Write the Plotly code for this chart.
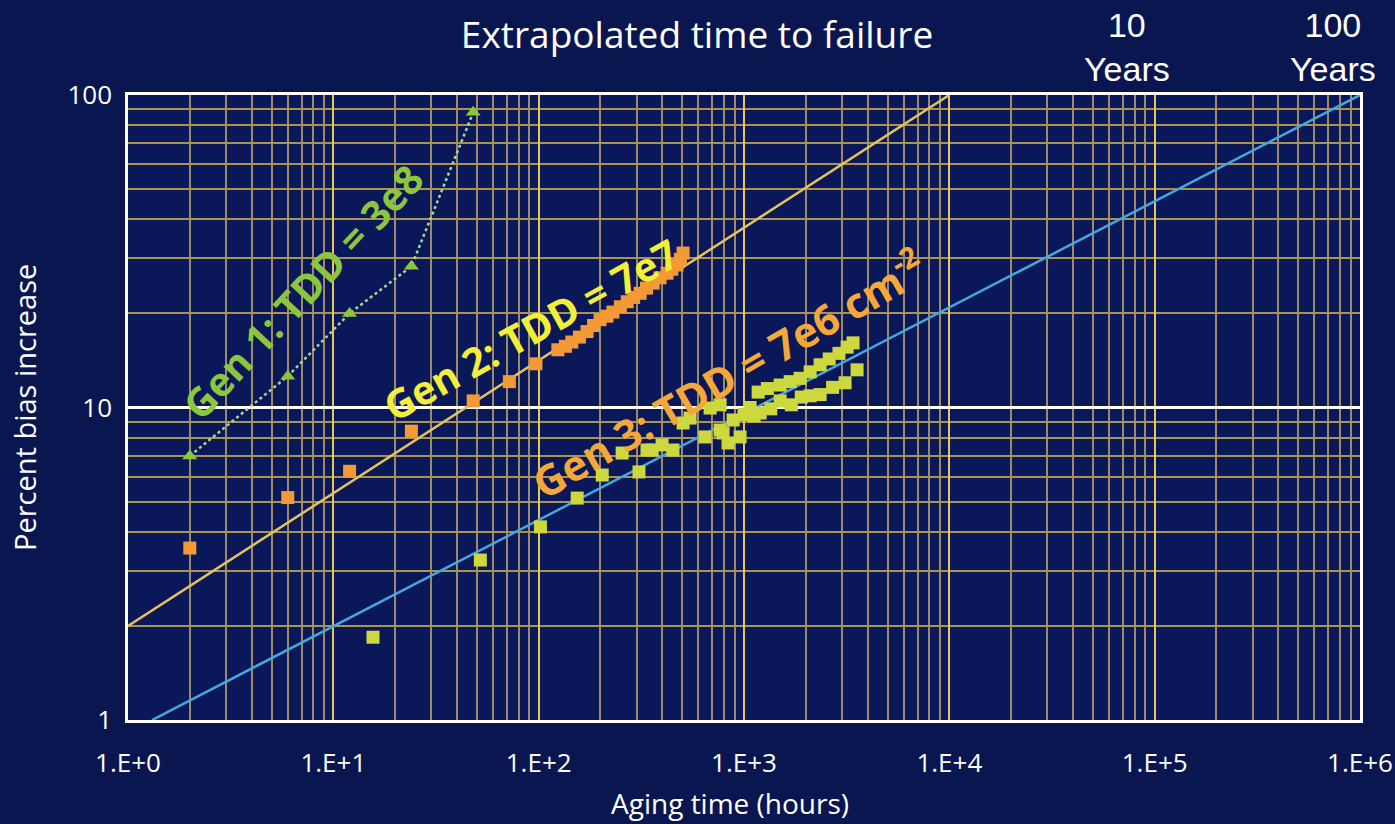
import plotly.graph_objects as go

# ---- data ----
gen1_x = [2, 6, 12, 24, 48]
gen1_y = [7.0, 12.6, 20.0, 28.3, 88]

gen2_x = [2, 6, 12, 24, 48, 72, 97, 124, 135, 145, 158, 172, 185, 199, 215, 230,
          250, 270, 290, 312, 335, 361, 390, 422, 445, 472, 490, 505]
gen2_y = [3.55, 5.15, 6.25, 8.4, 10.5, 12.1, 13.8, 15.3, 15.7, 16.2, 16.8, 17.5,
          18.3, 19.1, 19.6, 20.2, 21.0, 21.8, 22.5, 23.2, 24.1, 25.0, 26.0, 26.9,
          27.7, 28.6, 29.8, 31.2]

gen3_x = [15.6, 52, 102, 154, 204, 255, 308, 337, 357, 399, 451, 505, 546, 646, 684,
          765, 765, 791, 836, 885, 957, 1000, 1071, 1120, 1172, 1198, 1300, 1350,
          1500, 1500, 1678, 1700, 1876, 1900, 2100, 2100, 2348, 2348, 2600, 2700,
          2900, 3107, 3178, 3397, 3554]
gen3_y = [1.84, 3.25, 4.15, 5.13, 6.08, 7.15, 6.22, 7.31, 7.31, 7.59, 7.31, 8.92,
          9.25, 8.05, 9.96, 10.2, 8.47, 8.29, 7.70, 9.12, 8.05, 9.5, 10.0, 9.4, 11.2,
          9.6, 11.5, 9.9, 11.8, 10.5, 12.1, 10.2, 12.4, 10.8, 13.0, 10.9, 13.7, 11.0,
          14.3, 11.6, 14.9, 12.0, 15.6, 16.1, 13.2]

fit2_x = [1, 1e4]
fit2_y = [2, 100]
fit3_x = [1.31, 1e6]
fit3_y = [1, 100]

x_tickvals = [1, 10, 100, 1e3, 1e4, 1e5, 1e6]
x_ticktext = ["1.E+0", "1.E+1", "1.E+2", "1.E+3", "1.E+4", "1.E+5", "1.E+6"]
y_tickvals = [1, 10, 100]
y_ticktext = ["1", "10", "100"]

labels = ["Gen 1: TDD = 3e8", "Gen 2: TDD = 7e7", "Gen 3: TDD = 7e6 cm<sup>-2</sup>"]
year_labels = ["10<br>Years", "100<br>Years"]
title_text = "Extrapolated time to failure"
x_title = "Aging time (hours)"
y_title = "Percent bias increase"

# ---- colors ----
C_GEN1 = "#8cc63f"
C_GEN2 = "#f39a35"
C_GEN3 = "#cdd83f"
C_FIT2 = "#e5c35c"
C_FIT3 = "#45a6e0"
FONT = "Open Sans"

fig = go.Figure()

fig.add_trace(go.Scatter(x=fit2_x, y=fit2_y, mode="lines",
                         line=dict(color=C_FIT2, width=2.5), showlegend=False))
fig.add_trace(go.Scatter(x=fit3_x, y=fit3_y, mode="lines",
                         line=dict(color=C_FIT3, width=2.5), showlegend=False))
fig.add_trace(go.Scatter(x=gen1_x, y=gen1_y, mode="lines+markers",
                         line=dict(color="#a8d890", width=2.5, dash="dot"),
                         marker=dict(symbol="triangle-up", size=13, color=C_GEN1),
                         showlegend=False))
fig.add_trace(go.Scatter(x=gen2_x, y=gen2_y, mode="markers",
                         marker=dict(symbol="square", size=13, color=C_GEN2),
                         showlegend=False))
fig.add_trace(go.Scatter(x=gen3_x, y=gen3_y, mode="markers",
                         marker=dict(symbol="square", size=13, color=C_GEN3),
                         showlegend=False))

# rotated series labels (positions in log10 data units)
fig.add_annotation(x=0.85, y=1.37, xref="x", yref="y", text="<b>" + labels[0] + "</b>",
                   textangle=-47, showarrow=False,
                   font=dict(family=FONT, size=40, color=C_GEN1))
fig.add_annotation(x=1.96, y=1.25, xref="x", yref="y", text="<b>" + labels[1] + "</b>",
                   textangle=-29, showarrow=False,
                   font=dict(family=FONT, size=40, color="#f2ee3a"))
fig.add_annotation(x=2.92, y=1.11, xref="x", yref="y", text="<b>" + labels[2] + "</b>",
                   textangle=-30, showarrow=False,
                   font=dict(family=FONT, size=42, color="#f4a83a"))

# year labels (above the plot area)
fig.add_annotation(x=0.811, y=1.077, xref="paper", yref="paper",
                   xanchor="center", yanchor="middle",
                   text=year_labels[0], showarrow=False, align="center",
                   font=dict(family="Liberation Sans", size=34, color="white"))
fig.add_annotation(x=0.978, y=1.077, xref="paper", yref="paper",
                   xanchor="center", yanchor="middle",
                   text=year_labels[1], showarrow=False, align="center",
                   font=dict(family="Liberation Sans", size=34, color="white"))

# axis titles
fig.add_annotation(x=0.489, y=-0.133, xref="paper", yref="paper", text=x_title,
                   xanchor="center", yanchor="middle",
                   showarrow=False, font=dict(family=FONT, size=28, color="white"))
fig.add_annotation(x=-0.084, y=0.5, xref="paper", yref="paper", text=y_title,
                   xanchor="center", yanchor="middle",
                   textangle=-90, showarrow=False,
                   font=dict(family=FONT, size=29, color="white"))

fig.update_layout(
    width=1395, height=824,
    margin=dict(l=128, r=35, t=95, b=104),
    paper_bgcolor="#0a1650",
    plot_bgcolor="#0a185a",
    title=dict(text=title_text, x=697 / 1395, xanchor="center",
               y=1 - 35 / 824, yanchor="middle",
               font=dict(family=FONT, size=37, color="white")),
    xaxis=dict(type="log", range=[0, 6], tickvals=x_tickvals, ticktext=x_ticktext,
               tickfont=dict(family=FONT, size=26, color="white"),
               showgrid=True, gridcolor="#e8c45a", gridwidth=2,
               minor=dict(dtick="D1", showgrid=True, gridcolor="#9a8a6a", gridwidth=1.5,
                          ticks=""),
               showline=True, linecolor="white", linewidth=2.5, mirror=True,
               ticks="", zeroline=False, ticklabelstandoff=18, automargin=False),
    yaxis=dict(type="log", range=[0, 2], tickvals=y_tickvals, ticktext=y_ticktext,
               tickfont=dict(family=FONT, size=26, color="white"),
               showgrid=True, gridcolor="white", gridwidth=2.5,
               minor=dict(dtick="D1", showgrid=True, gridcolor="#a8944e", gridwidth=1.5,
                          ticks=""),
               showline=True, linecolor="white", linewidth=2.5, mirror=True,
               ticks="", zeroline=False, ticklabelstandoff=8, automargin=False),
)

fig.write_html("out.html")
